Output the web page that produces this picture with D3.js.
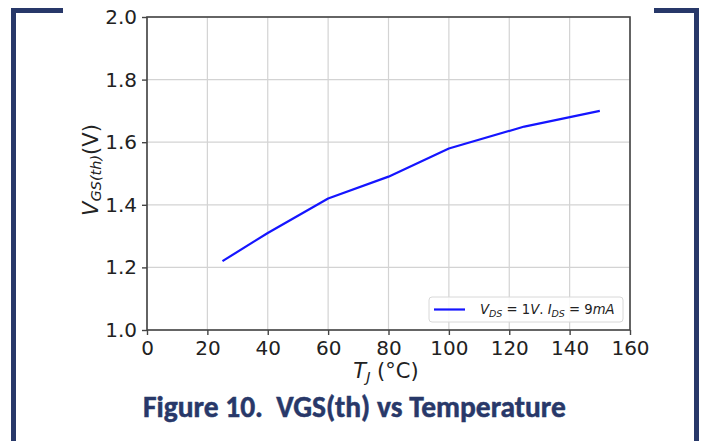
<!DOCTYPE html>
<html>
<head>
<meta charset="utf-8">
<script src="https://cdn.jsdelivr.net/npm/d3@7/dist/d3.min.js"></script>
<style>
  html, body { margin: 0; padding: 0; background: #fff; }
  svg { display: block; }
</style>
</head>
<body>
<svg id="chart" width="703" height="441"></svg>
<script>
// Junction temperature (°C) and threshold voltage (V)
const temperatures = [25, 40, 60, 80, 100, 125, 150];
const vgsth = [1.22, 1.31, 1.42, 1.49, 1.58, 1.65, 1.70];
const xTicks = [0, 20, 40, 60, 80, 100, 120, 140, 160];
const yTicks = [1.0, 1.2, 1.4, 1.6, 1.8, 2.0];
const titleText = "Figure 10.  VGS(th) vs Temperature";

const svg = d3.select("#chart");
const W = 703, H = 441;
const plot = { left: 147, top: 17, right: 630, bottom: 330 };
const navy = "#283869";

// Page frame brackets
svg.append("rect").attr("x", 11).attr("y", 8).attr("width", 52).attr("height", 5).attr("fill", navy);
svg.append("rect").attr("x", 11).attr("y", 8).attr("width", 5).attr("height", H - 8).attr("fill", navy);
svg.append("rect").attr("x", 654).attr("y", 8).attr("width", 45).attr("height", 5).attr("fill", navy);
svg.append("rect").attr("x", 694).attr("y", 8).attr("width", 5).attr("height", H - 8).attr("fill", navy);

const x = d3.scaleLinear().domain([0, 160]).range([plot.left, plot.right]);
const y = d3.scaleLinear().domain([1.0, 2.0]).range([plot.bottom, plot.top]);

const g = svg.append("g");

// Grid
g.append("g").selectAll("line").data(xTicks).join("line")
  .attr("x1", d => x(d)).attr("x2", d => x(d))
  .attr("y1", plot.top).attr("y2", plot.bottom)
  .attr("stroke", "#d3d3d3").attr("stroke-width", 1.2);
g.append("g").selectAll("line").data(yTicks).join("line")
  .attr("y1", d => y(d)).attr("y2", d => y(d))
  .attr("x1", plot.left).attr("x2", plot.right)
  .attr("stroke", "#d3d3d3").attr("stroke-width", 1.2);

// Axes
const tickFont = "'DejaVu Sans', sans-serif";
const xAxis = d3.axisBottom(x).tickValues(xTicks).tickFormat(d3.format("d")).tickSize(5).tickPadding(6);
const yAxis = d3.axisLeft(y).tickValues(yTicks).tickFormat(d3.format(".1f")).tickSize(5).tickPadding(5);

const gx = g.append("g").attr("transform", `translate(0,${plot.bottom})`).call(xAxis);
const gy = g.append("g").attr("transform", `translate(${plot.left},0)`).call(yAxis);
[gx, gy].forEach(a => {
  a.select(".domain").remove();
  a.selectAll(".tick line").attr("stroke", "#444").attr("stroke-width", 1.4);
  a.selectAll(".tick text").attr("fill", "#222").style("font-family", tickFont).style("font-size", "20px");
});

// Spines
g.append("rect")
  .attr("x", plot.left).attr("y", plot.top)
  .attr("width", plot.right - plot.left).attr("height", plot.bottom - plot.top)
  .attr("fill", "none").attr("stroke", "#444").attr("stroke-width", 1.6);

// Data line
const line = d3.line().x((d, i) => x(temperatures[i])).y(d => y(d));
g.append("path").datum(vgsth)
  .attr("d", line)
  .attr("fill", "none").attr("stroke", "#1515ff").attr("stroke-width", 2.2)
  .attr("stroke-linejoin", "round").attr("stroke-linecap", "butt");

// Legend
const leg = g.append("g");
leg.append("rect")
  .attr("x", 429).attr("y", 297).attr("width", 194).attr("height", 25).attr("rx", 3)
  .attr("fill", "#fff").attr("fill-opacity", 0.85)
  .attr("stroke", "#d8d8d8").attr("stroke-width", 1);
leg.append("line")
  .attr("x1", 434).attr("x2", 465).attr("y1", 309.5).attr("y2", 309.5)
  .attr("stroke", "#1515ff").attr("stroke-width", 2.2);
const lt = leg.append("text")
  .attr("x", 480).attr("y", 314)
  .style("font-family", tickFont).style("font-size", "13.2px").attr("fill", "#222");
lt.append("tspan").style("font-style", "italic").text("V");
lt.append("tspan").style("font-style", "italic").style("font-size", "9.5px").attr("dy", 2.5).text("DS");
lt.append("tspan").attr("dy", -2.5).text(" = 1");
lt.append("tspan").style("font-style", "italic").text("V");
lt.append("tspan").text(". ");
lt.append("tspan").style("font-style", "italic").text("I");
lt.append("tspan").style("font-style", "italic").style("font-size", "9.5px").attr("dy", 2.5).text("DS");
lt.append("tspan").attr("dy", -2.5).text(" = 9");
lt.append("tspan").style("font-style", "italic").text("mA");

// X axis label
const xl = svg.append("text")
  .attr("x", 386).attr("y", 378)
  .attr("text-anchor", "middle")
  .style("font-family", tickFont).style("font-size", "21px").attr("fill", "#222");
xl.append("tspan").style("font-style", "italic").text("T");
xl.append("tspan").style("font-style", "italic").style("font-size", "14.5px").attr("dy", 3.5).text("J");
xl.append("tspan").attr("dy", -3.5).text(" (°C)");

// Y axis label
const yl = svg.append("text")
  .attr("transform", `translate(98,170) rotate(-90)`)
  .attr("text-anchor", "middle")
  .style("font-family", tickFont).style("font-size", "21px").attr("fill", "#222");
yl.append("tspan").style("font-style", "italic").text("V");
yl.append("tspan").style("font-style", "italic").style("font-size", "14.5px").attr("dy", 2.5).text("GS(th)");
yl.append("tspan").attr("dy", -2.5).text("(V)");

// Figure caption
const title = svg.append("text")
  .attr("x", 143).attr("y", 417)
  .attr("xml:space", "preserve").style("white-space", "pre")
  .style("font-family", "Carlito, Lato, sans-serif").style("font-weight", "bold")
  .style("font-size", "24px").attr("fill", navy)
  .attr("stroke", navy).attr("stroke-width", 0.5)
  .text(titleText);
const tw = title.node().getComputedTextLength();
title.style("font-size", (24 * 423 / tw).toFixed(2) + "px");
</script>
</body>
</html>
